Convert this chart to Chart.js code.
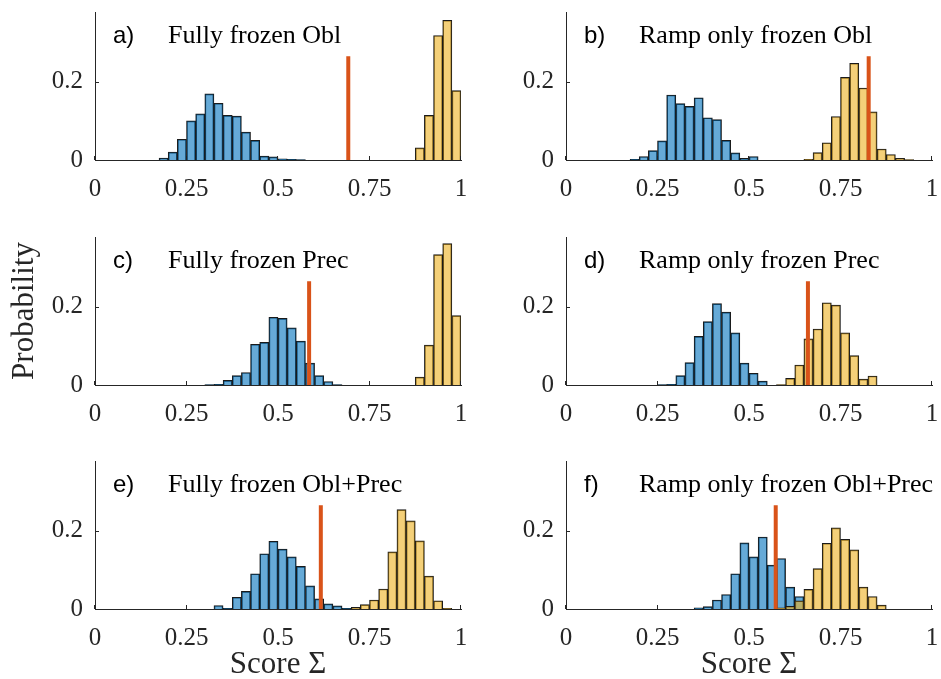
<!DOCTYPE html>
<html>
<head>
<meta charset="utf-8">
<script src="https://cdn.jsdelivr.net/npm/chart.js@4.4.1/dist/chart.umd.min.js"></script>
<style>
  html, body { margin: 0; padding: 0; background: #fff; width: 941px; height: 679px; overflow: hidden; }
  canvas { position: absolute; }
</style>
</head>
<body>
<canvas id="pa"></canvas>
<canvas id="pb"></canvas>
<canvas id="pc"></canvas>
<canvas id="pd"></canvas>
<canvas id="pe"></canvas>
<canvas id="pf"></canvas>
<script>
// histogram data (bin width 0.025)
const panelIds = ['a', 'b', 'c', 'd', 'e', 'f'];
const panelLabels = ['a)', 'b)', 'c)', 'd)', 'e)', 'f)'];
const panelTitles = ['Fully frozen Obl', 'Ramp only frozen Obl', 'Fully frozen Prec',
                     'Ramp only frozen Prec', 'Fully frozen Obl+Prec', 'Ramp only frozen Obl+Prec'];
const binWidth = 0.025;

// first bin edge of each series, per panel
const blueStart = [0.175, 0.175, 0.3, 0.25, 0.325, 0.35];
const yellowStart = [0.875, 0.65, 0.875, 0.575, 0.7, 0.575];

const blueA = [0.005, 0.020, 0.053, 0.100, 0.118, 0.169, 0.145, 0.114, 0.112, 0.071, 0.050, 0.010, 0.008, 0.003, 0.002, 0.001];
const blueB = [0.002, 0.009, 0.024, 0.049, 0.166, 0.144, 0.137, 0.159, 0.108, 0.103, 0.050, 0.018, 0.004, 0.009];
const blueC = [0.001, 0.002, 0.012, 0.024, 0.032, 0.104, 0.109, 0.173, 0.170, 0.146, 0.112, 0.056, 0.024, 0.009, 0.001];
const blueD = [0.001, 0.002, 0.024, 0.057, 0.124, 0.162, 0.208, 0.186, 0.133, 0.056, 0.030, 0.010];
const blueE = [0.009, 0.002, 0.030, 0.045, 0.090, 0.141, 0.173, 0.153, 0.133, 0.109, 0.059, 0.026, 0.013, 0.008, 0.002];
const blueF = [0.003, 0.006, 0.023, 0.037, 0.090, 0.169, 0.133, 0.184, 0.112, 0.129, 0.056, 0.032];

const yellowA = [0.031, 0.114, 0.318, 0.357, 0.177];
const yellowB = [0.002, 0.019, 0.044, 0.111, 0.211, 0.247, 0.184, 0.123, 0.028, 0.014, 0.004, 0.001];
const yellowC = [0.020, 0.102, 0.333, 0.361, 0.177];
const yellowD = [0.001, 0.017, 0.051, 0.118, 0.143, 0.210, 0.204, 0.133, 0.075, 0.015, 0.023];
const yellowE = [0.004, 0.011, 0.023, 0.051, 0.146, 0.254, 0.225, 0.174, 0.084, 0.021, 0.002];
const yellowF = [0.003, 0.007, 0.021, 0.050, 0.103, 0.168, 0.207, 0.178, 0.151, 0.056, 0.032, 0.010];

const thresholds = [0.692, 0.827, 0.585, 0.661, 0.617, 0.573];
const thresholdHeight = 0.265;

const xTicks = [0, 0.25, 0.5, 0.75, 1];
const yTicks = [0, 0.2];
const yMax = 0.378;

const blueSeries = [blueA, blueB, blueC, blueD, blueE, blueF];
const yellowSeries = [yellowA, yellowB, yellowC, yellowD, yellowE, yellowF];

const SERIF = '"Liberation Serif", "Times New Roman", serif';
const SANS = '"Liberation Sans", Arial, sans-serif';
const AXIS_COLOR = '#262626';

function toBins(start, values) {
    return values.map((v, k) => ({ x: +(start + binWidth * (k + 0.5)).toFixed(4), y: v }));
}

// MATLAB-style ticks pointing into the plot
const inwardTicks = {
    id: 'inwardTicks',
    afterDatasetsDraw(chart) {
        const { ctx, chartArea, scales } = chart;
        ctx.save();
        ctx.strokeStyle = AXIS_COLOR;
        ctx.lineWidth = 1;
        ctx.beginPath();
        scales.x.ticks.forEach(t => {
            const px = Math.round(scales.x.getPixelForValue(t.value)) - 0.5;
            ctx.moveTo(px, chartArea.bottom);
            ctx.lineTo(px, chartArea.bottom - 4);
        });
        scales.y.ticks.forEach(t => {
            const py = Math.round(scales.y.getPixelForValue(t.value)) + 0.5;
            ctx.moveTo(chartArea.left, py);
            ctx.lineTo(chartArea.left + 4, py);
        });
        ctx.stroke();
        ctx.restore();
    }
};

function panelText(label, title) {
    return {
        id: 'panelText',
        afterDraw(chart) {
            const { ctx, chartArea } = chart;
            ctx.save();
            ctx.fillStyle = '#000';
            ctx.textBaseline = 'alphabetic';
            ctx.font = '24px ' + SANS;
            ctx.fillText(label, chartArea.left + 18, chartArea.top + 31);
            ctx.font = '26px ' + SERIF;
            ctx.fillText(title, chartArea.left + 73, chartArea.top + 31);
            ctx.restore();
        }
    };
}

function makePanel(i) {
    const col = i % 2;
    const row = Math.floor(i / 2);
    const canvas = document.getElementById('p' + panelIds[i]);
    const xAxisH = row === 2 ? 71 : 42;
    canvas.width = col === 0 ? 471 : 470;
    canvas.height = 12 + 148 + xAxisH;
    canvas.style.left = (col === 0 ? 0 : 471) + 'px';
    canvas.style.top = [0, 225, 449][row] + 'px';

    const barStyle = {
        type: 'bar',
        borderColor: '#1a1a1a',
        borderWidth: 1,
        grouped: false,
        barPercentage: 1,
        categoryPercentage: 1
    };

    new Chart(canvas, {
        type: 'bar',
        data: {
            datasets: [
                {
                    type: 'line',
                    data: [{ x: thresholds[i], y: 0 }, { x: thresholds[i], y: thresholdHeight }],
                    borderColor: '#D95319',
                    borderWidth: 4,
                    borderCapStyle: 'butt',
                    pointRadius: 0,
                    order: 0
                },
                Object.assign({}, barStyle, {
                    data: toBins(yellowStart[i], yellowSeries[i]),
                    backgroundColor: 'rgba(237,177,32,0.6)',
                    order: 1
                }),
                Object.assign({}, barStyle, {
                    data: toBins(blueStart[i], blueSeries[i]),
                    backgroundColor: 'rgba(0,114,189,0.6)',
                    order: 2
                })
            ]
        },
        options: {
            responsive: false,
            animation: false,
            layout: { padding: { top: 12, right: col === 0 ? 10 : 9, left: 0, bottom: 0 } },
            plugins: { legend: { display: false }, tooltip: { enabled: false } },
            scales: {
                x: {
                    type: 'linear',
                    min: 0,
                    max: 1,
                    offset: false,
                    afterBuildTicks: s => { s.ticks = xTicks.map(v => ({ value: v })); },
                    afterFit: s => { s.height = xAxisH; s.paddingLeft = 0; s.paddingRight = 0; },
                    ticks: {
                        callback: v => String(v),
                        font: { family: SERIF, size: 25 },
                        color: AXIS_COLOR,
                        padding: 14,
                        maxRotation: 0,
                        autoSkip: false
                    },
                    grid: { display: false, drawTicks: false },
                    border: { display: true, color: AXIS_COLOR, width: 1 },
                    title: {
                        display: row === 2,
                        text: 'Score Σ',
                        font: { family: SERIF, size: 31, lineHeight: 1 },
                        color: AXIS_COLOR,
                        padding: { top: 0, bottom: 0 }
                    }
                },
                y: {
                    min: 0,
                    max: yMax,
                    afterBuildTicks: s => { s.ticks = yTicks.map(v => ({ value: v })); },
                    afterFit: s => { s.width = 95; s.paddingTop = 0; s.paddingBottom = 0; },
                    ticks: {
                        callback: v => String(v),
                        font: { family: SERIF, size: 25 },
                        color: AXIS_COLOR,
                        padding: 12
                    },
                    grid: { display: false, drawTicks: false },
                    border: { display: true, color: AXIS_COLOR, width: 1 },
                    title: {
                        display: i === 2,
                        text: 'Probability',
                        font: { family: SERIF, size: 31, lineHeight: 1 },
                        color: AXIS_COLOR,
                        padding: { top: 9, bottom: 0 }
                    }
                }
            }
        },
        plugins: [inwardTicks, panelText(panelLabels[i], panelTitles[i])]
    });
}

panelIds.forEach((id, i) => makePanel(i));
</script>
</body>
</html>
